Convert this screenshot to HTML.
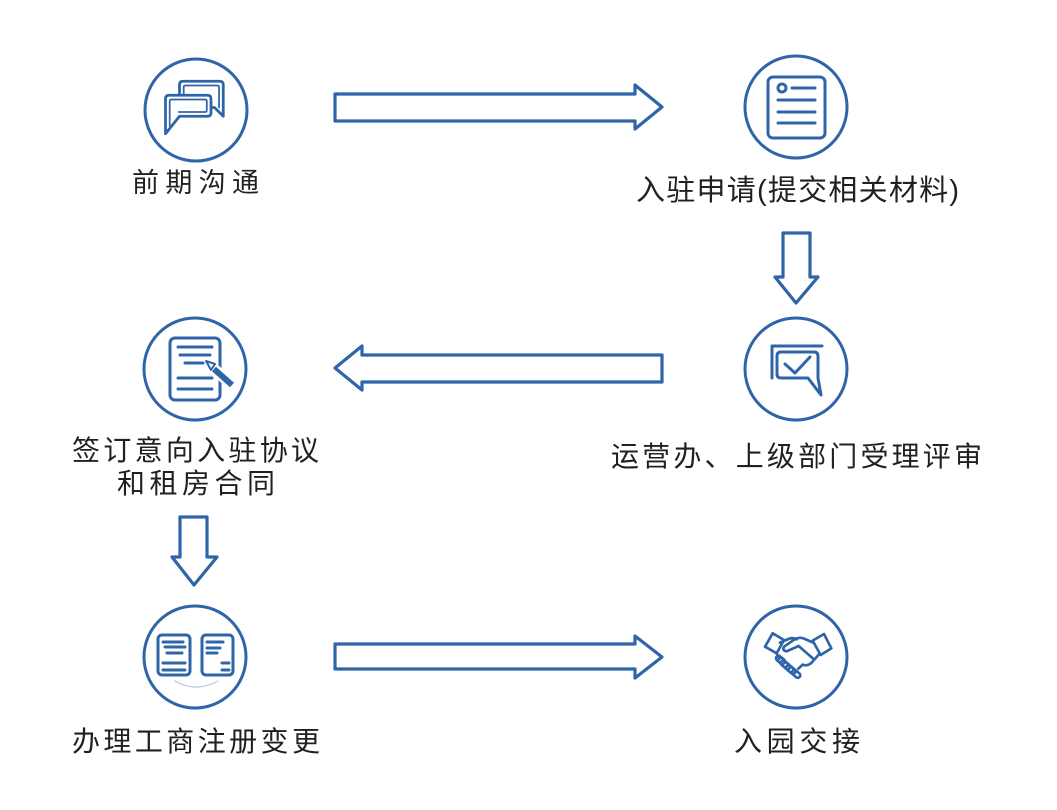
<!DOCTYPE html>
<html>
<head>
<meta charset="utf-8">
<style>
  html,body{margin:0;padding:0;background:#fff;}
  svg{display:block;}
  text{font-family:"Liberation Sans","Noto Sans CJK SC",sans-serif;fill:#231f20;}
</style>
</head>
<body>
<svg width="1057" height="810" viewBox="0 0 1057 810" xmlns="http://www.w3.org/2000/svg">
  <rect width="1057" height="810" fill="#fff"/>

  <!-- Circles -->
  <g fill="none" stroke="#2f64a8" stroke-width="3">
    <circle cx="196" cy="110" r="51"/>
    <circle cx="796" cy="107" r="51"/>
    <circle cx="195" cy="369" r="51"/>
    <circle cx="796" cy="369" r="51"/>
    <circle cx="195" cy="657" r="51"/>
    <circle cx="796" cy="657" r="51"/>
  </g>

  <!-- Arrows -->
  <g fill="#fff" stroke="#2f64a8" stroke-width="3.2" stroke-linejoin="round">
    <path d="M335,94 H635 V85 L662,107 L635,129 V121 H335 Z"/>
    <path d="M662,355 H362 V346 L335,368 L362,390 V382 H662 Z"/>
    <path d="M335,644 H635 V636 L662,657 L635,678 V669 H335 Z"/>
    <path d="M783,233 H810 V277 H818 L796,303 L775,277 H783 Z"/>
    <path d="M180,517 H207 V557 H217 L194,585 L172,557 H180 Z"/>
  </g>

  <!-- Icon 1: chat bubbles -->
  <g transform="translate(127,48) scale(0.35)" fill="none" stroke="#2f64a8" stroke-width="8" stroke-linejoin="round" stroke-linecap="round">
    <path d="M150,140 V105 Q150,95 160,95 H265 Q275,95 275,105 V195 L250,170 H240"/>
    <path d="M162,135 V112 Q162,107 167,107 H258 Q263,107 263,112 V170" stroke-width="5"/>
    <path d="M150,195 H230 Q240,195 240,185 V145 Q240,135 230,135 H120 Q110,135 110,145 V245 Z" fill="#fff"/>
    <path d="M122,222 V152 Q122,147 127,147 H223 Q228,147 228,152 V178 Q228,183 223,183 H148" stroke-width="5"/>
  </g>

  <!-- Icon 2: document -->
  <g fill="none" stroke="#2f64a8" stroke-width="3" stroke-linecap="round">
    <rect x="768" y="77" width="57" height="61" rx="5"/>
    <circle cx="782" cy="88" r="4"/>
    <line x1="792" y1="88" x2="815" y2="88"/>
    <line x1="778" y1="100" x2="815" y2="100"/>
    <line x1="778" y1="112" x2="815" y2="112"/>
    <line x1="778" y1="123" x2="815" y2="123"/>
  </g>

  <!-- Icon 3: doc with pen -->
  <g fill="none" stroke="#2f64a8" stroke-width="3" stroke-linecap="round">
    <rect x="170" y="338" width="50" height="62" rx="5"/>
    <line x1="178" y1="347" x2="212" y2="347"/>
    <line x1="180" y1="355" x2="210" y2="355"/>
    <line x1="185" y1="363" x2="203" y2="363"/>
    <line x1="178" y1="378" x2="212" y2="378"/>
    <line x1="178" y1="389" x2="212" y2="389"/>
    <line x1="212" y1="367" x2="232" y2="385" stroke="#fff" stroke-width="11"/>
    <line x1="214" y1="369" x2="232" y2="385" stroke-width="6" stroke-linecap="butt"/>
    <path d="M206,361 L215,364 L211,370 Z" stroke-width="2" stroke-linejoin="round"/>
  </g>

  <!-- Icon 4: chat with check -->
  <g fill="none" stroke="#2f64a8" stroke-width="3" stroke-linejoin="round" stroke-linecap="round">
    <path d="M772,378 V346 H822"/>
    <path d="M781,352 H814 Q818,352 818,356 V378 L821,395 L808,378 H781 Q777,378 777,374 V356 Q777,352 781,352 Z"/>
    <path d="M785,364 L795,373 L810,357"/>
  </g>

  <!-- Icon 5: two docs -->
  <g fill="none" stroke="#2f64a8" stroke-width="3" stroke-linecap="round">
    <rect x="158" y="635" width="32" height="40" rx="4"/>
    <line x1="163" y1="642" x2="183" y2="642"/>
    <line x1="165" y1="647" x2="185" y2="647"/>
    <line x1="167" y1="653" x2="182" y2="653"/>
    <line x1="163" y1="663" x2="185" y2="663"/>
    <line x1="163" y1="670" x2="185" y2="670"/>
    <rect x="202" y="635" width="31" height="40" rx="4"/>
    <line x1="207" y1="642" x2="223" y2="642"/>
    <line x1="207" y1="648" x2="220" y2="648"/>
    <line x1="207" y1="653" x2="217" y2="653"/>
    <line x1="222" y1="663" x2="229" y2="663"/>
    <line x1="222" y1="670" x2="229" y2="670"/>
    <path d="M175,681 Q196,693 218,681" stroke="#a9bcd6" stroke-width="1.2" stroke-dasharray="1.5 1.5"/>
  </g>

  <!-- Icon 6: handshake -->
  <g transform="translate(730,600) scale(0.3333)" fill="none" stroke="#2f64a8" stroke-width="8" stroke-linejoin="round" stroke-linecap="round">
    <polygon points="105,140 128,100 162,120 140,160"/>
    <polygon points="248,122 282,102 304,145 272,165"/>
    <path d="M150,128 L178,116 Q190,112 200,118"/>
    <path d="M250,128 L222,116 Q208,110 194,118 L162,140 Q156,152 170,154 L206,138 L252,178"/>
    <path d="M268,162 L245,188 Q232,200 218,194 L205,206"/>
    <path d="M140,160 L148,176"/>
    <rect x="136" y="172" width="30" height="15" rx="7.5" transform="rotate(40 151 180)"/>
    <rect x="150" y="187" width="32" height="15" rx="7.5" transform="rotate(40 166 195)"/>
    <rect x="166" y="201" width="32" height="15" rx="7.5" transform="rotate(40 182 209)"/>
    <rect x="184" y="214" width="28" height="15" rx="7.5" transform="rotate(40 198 222)"/>
  </g>

  <!-- Labels -->
  <text x="132" y="192" font-size="27" textLength="127" lengthAdjust="spacing">前期沟通</text>
  <text x="636" y="200" font-size="29" textLength="323" lengthAdjust="spacing">入驻申请(提交相关材料)</text>
  <text x="72" y="460" font-size="28" textLength="247" lengthAdjust="spacing">签订意向入驻协议</text>
  <text x="117" y="493" font-size="28" textLength="158" lengthAdjust="spacing">和租房合同</text>
  <text x="611" y="466" font-size="28" textLength="371" lengthAdjust="spacing">运营办、上级部门受理评审</text>
  <text x="72" y="751" font-size="28" textLength="248" lengthAdjust="spacing">办理工商注册变更</text>
  <text x="734" y="751" font-size="28" textLength="126" lengthAdjust="spacing">入园交接</text>
</svg>
</body>
</html>
